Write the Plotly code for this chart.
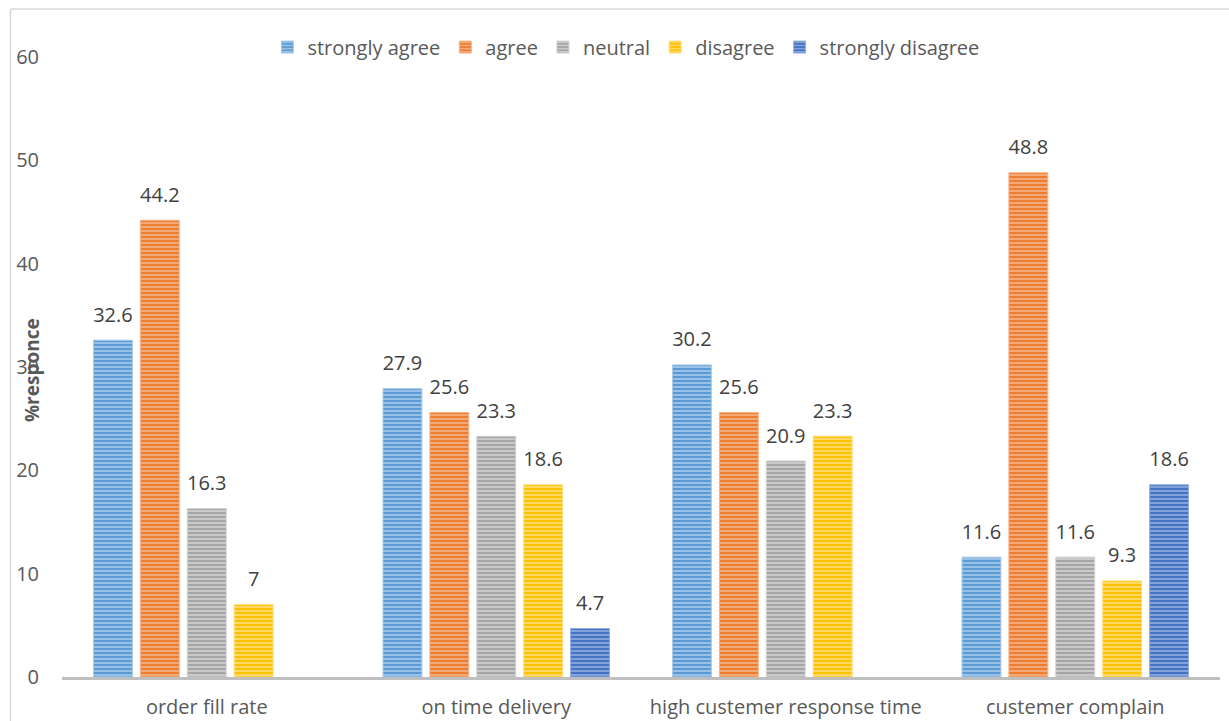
import plotly.graph_objects as go

# Survey results: % of responses per rating for each performance measure
categories = ["order fill rate", "on time delivery", "high custemer response time", "custemer complain"]
series_names = ["strongly agree", "agree", "neutral", "disagree", "strongly disagree"]

strongly_agree = [32.6, 27.9, 30.2, 11.6]
agree = [44.2, 25.6, 25.6, 48.8]
neutral = [16.3, 23.3, 20.9, 11.6]
disagree = [7, 18.6, 23.3, 9.3]
strongly_disagree = [None, 4.7, None, 18.6]

y_ticks = [0, 10, 20, 30, 40, 50, 60]

series_values = [strongly_agree, agree, neutral, disagree, strongly_disagree]
base_colors = ["#5B9BD5", "#ED7D31", "#A5A5A5", "#FFC000", "#4472C4"]
stripe_colors = ["#A9CBEB", "#F6B48A", "#D2D2D2", "#FFDE80", "#93AEE0"]

FONT = "Open Sans"
FONT_SIZE = 20
TEXT_GREY = "#595959"
LABEL_GREY = "#404040"

fig = go.Figure()

for name, vals, base, stripe in zip(series_names, series_values, base_colors, stripe_colors):
    fig.add_trace(go.Bar(
        name=name,
        x=categories,
        y=vals,
        marker=dict(
            color=base,
            line=dict(color=stripe, width=1),
            pattern=dict(shape="-", bgcolor=base, fgcolor=stripe,
                         size=4, solidity=0.4, fillmode="replace"),
        ),
        hoverinfo="name+y",
    ))

# value labels, grouped the same way as the bars
for name, vals in zip(series_names, series_values):
    fig.add_trace(go.Scatter(
        x=categories,
        y=vals,
        mode="markers+text",
        text=[("" if v is None else f"{v:g}") for v in vals],
        textposition="top center",
        textfont=dict(family=FONT, size=FONT_SIZE, color=LABEL_GREY),
        marker=dict(size=20, opacity=0),
        showlegend=False,
        hoverinfo="skip",
        cliponaxis=False,
    ))

fig.update_layout(
    width=1229,
    height=721,
    margin=dict(l=62, r=9, t=57, b=44, autoexpand=False),
    paper_bgcolor="white",
    plot_bgcolor="white",
    barmode="group",
    scattermode="group",
    bargap=0.19,
    bargroupgap=0.17,
    font=dict(family=FONT, size=FONT_SIZE, color=TEXT_GREY),
    showlegend=True,
    legend=dict(
        orientation="h",
        x=0.487, xanchor="center",
        y=1.016, yanchor="middle",
        font=dict(family=FONT, size=FONT_SIZE, color=TEXT_GREY),
        bgcolor="rgba(0,0,0,0)",
        itemclick=False,
        tracegroupgap=0,
    ),
    xaxis=dict(
        automargin=False,
        showline=True,
        linecolor="#BFBFBF",
        linewidth=2.5,
        showgrid=False,
        ticks="",
        tickfont=dict(family=FONT, size=FONT_SIZE, color=TEXT_GREY),
        ticklabelstandoff=10,
    ),
    yaxis=dict(
        automargin=False,
        range=[0, 60],
        tickvals=y_ticks,
        showgrid=False,
        zeroline=False,
        showline=False,
        ticks="",
        tickfont=dict(family=FONT, size=FONT_SIZE, color=TEXT_GREY),
        ticklabelstandoff=22,
    ),
    annotations=[dict(
        text="<b>%responce</b>",
        xref="paper", yref="paper",
        x=-0.026, y=0.495,
        xanchor="center", yanchor="middle",
        textangle=-90,
        showarrow=False,
        font=dict(family=FONT, size=19, color=TEXT_GREY),
    )],
    shapes=[
        dict(type="line", xref="paper", yref="paper",
             x0=-0.0445, x1=1.01, y0=1.0774, y1=1.0774,
             line=dict(color="#D9D9D9", width=1.5)),
        dict(type="line", xref="paper", yref="paper",
             x0=-0.0445, x1=-0.0445, y0=1.0774, y1=-0.08,
             line=dict(color="#D9D9D9", width=1.5)),
    ],
)

fig.write_html("out.html")
